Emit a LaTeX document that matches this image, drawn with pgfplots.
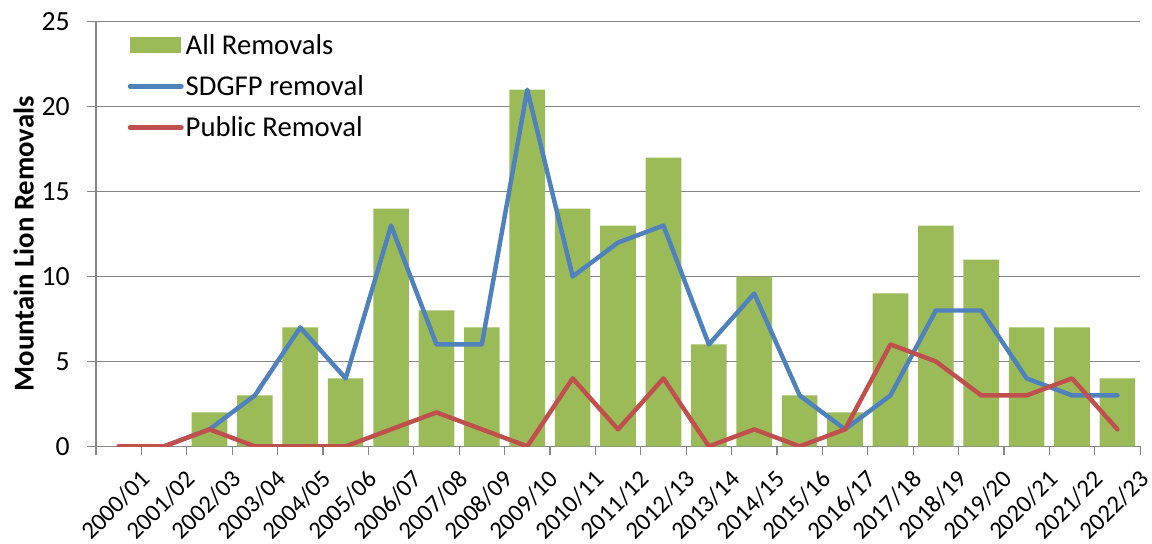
\documentclass[border=0pt]{standalone}
\usepackage{fontspec}
\setmainfont{Carlito}
\usepackage{pgfplots}
\pgfplotsset{compat=1.18}
\definecolor{barGreen}{HTML}{9BBB59}
\definecolor{lineBlue}{HTML}{4F81BD}
\definecolor{lineRed}{HTML}{C0504D}
\definecolor{axisGray}{HTML}{868686}
\begin{document}
\begin{tikzpicture}
\begin{axis}[
  name=ax,
  scale only axis,
  width=1055pt, height=429pt,
  xmin=-0.5, xmax=22.5,
  ymin=0, ymax=25,
  ytick={0,5,...,25},
  xtick={0,...,22},
  xticklabels={2000/01,2001/02,2002/03,2003/04,2004/05,2005/06,2006/07,2007/08,2008/09,2009/10,2010/11,2011/12,2012/13,2013/14,2014/15,2015/16,2016/17,2017/18,2018/19,2019/20,2020/21,2021/22,2022/23},
  minor xtick={-0.5,0.5,...,22.5},
  x tick label style={rotate=45, anchor=north east, inner sep=1pt,
    yshift=-23pt, xshift=6pt, font=\fontsize{25}{29}\selectfont},
  y tick label style={xshift=-14pt, font=\fontsize{28}{32}\selectfont},
  /pgf/number format/assume math mode=true,
  axis x line*=bottom, axis y line*=left,
  axis line style={axisGray, line width=1.2pt},
  tick align=outside,
  major x tick style={draw=none},
  minor x tick style={axisGray, line width=1.2pt},
  major y tick style={axisGray, line width=1.2pt},
  major tick length=9pt, minor tick length=9pt,
  ymajorgrids,
  major grid style={axisGray, line width=1.2pt},
  ylabel={\bfseries Mountain Lion Removals},
  ylabel style={font=\fontsize{29}{33}\selectfont,
    at={(axis description cs:-0.0692,0.477)}, anchor=center},
  legend cell align=left,
  legend style={at={(0.0274,0.98)}, anchor=north west, draw=none, fill=none,
    font=\fontsize{29}{33}\selectfont, row sep=16pt},
]
\addplot[ybar, bar width=0.785, fill=barGreen, draw=none,
  legend image code/.code={\fill[barGreen] (0pt,-8pt) rectangle (52pt,8pt);}]
  coordinates {(0,0) (1,0) (2,2) (3,3) (4,7) (5,4) (6,14) (7,8) (8,7) (9,21)
  (10,14) (11,13) (12,17) (13,6) (14,10) (15,3) (16,2) (17,9) (18,13) (19,11)
  (20,7) (21,7) (22,4)};
\addlegendentry{All Removals}
\addplot[lineBlue, line width=4.5pt, line join=round, line cap=round,
  legend image code/.code={\draw[lineBlue, line width=4.5pt, line cap=round] (0pt,0pt) -- (52pt,0pt);}]
  coordinates {(0,0) (1,0) (2,1) (3,3) (4,7) (5,4) (6,13) (7,6) (8,6) (9,21)
  (10,10) (11,12) (12,13) (13,6) (14,9) (15,3) (16,1) (17,3) (18,8) (19,8)
  (20,4) (21,3) (22,3)};
\addlegendentry{SDGFP removal}
\addplot[lineRed, line width=4.5pt, line join=round, line cap=round,
  legend image code/.code={\draw[lineRed, line width=4.5pt, line cap=round] (0pt,0pt) -- (52pt,0pt);}]
  coordinates {(0,0) (1,0) (2,1) (3,0) (4,0) (5,0) (6,1) (7,2) (8,1) (9,0)
  (10,4) (11,1) (12,4) (13,0) (14,1) (15,0) (16,1) (17,6) (18,5) (19,3)
  (20,3) (21,4) (22,1)};
\addlegendentry{Public Removal}
\end{axis}
% white margin to the left of the labels and above the top tick label
\path ([xshift=-97pt]ax.south west) ([yshift=22pt]ax.north east);
\end{tikzpicture}
\end{document}
